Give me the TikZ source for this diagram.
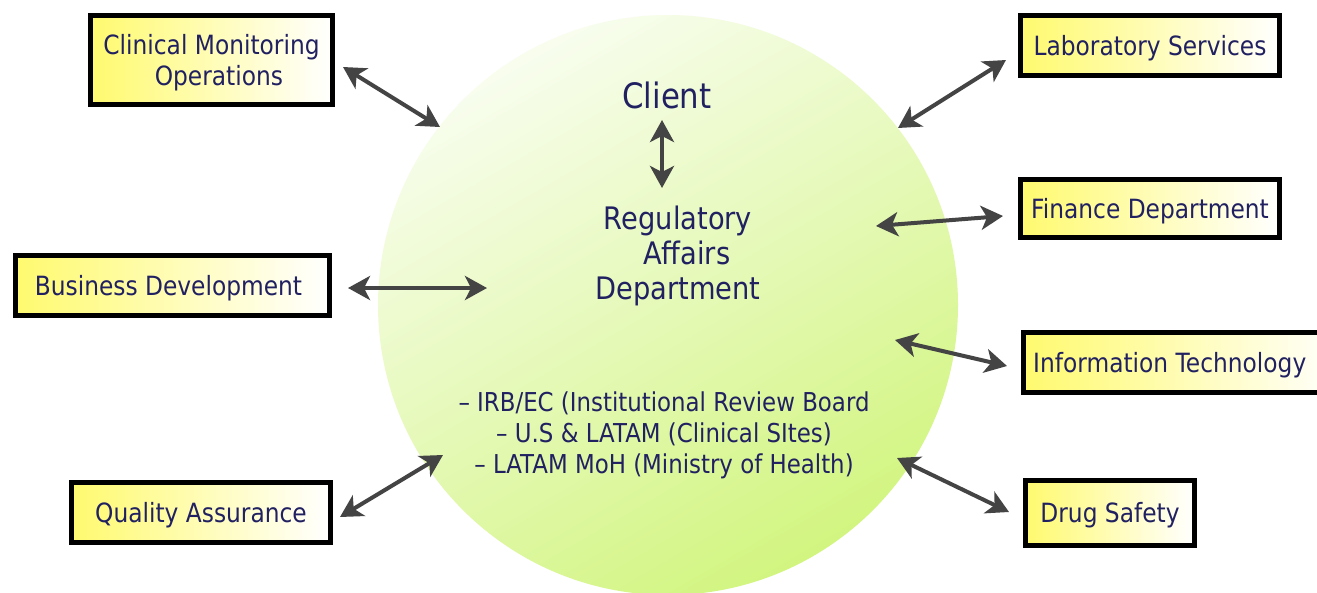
\documentclass[tikz,border=0pt]{standalone}
\usepackage{fontspec}
\setmainfont{DejaVu Sans}[FakeStretch=0.88]
\usetikzlibrary{arrows.meta}
\definecolor{navy}{RGB}{33,33,98}
\definecolor{arrowgray}{RGB}{68,68,68}
\definecolor{boxyellow}{RGB}{255,250,110}
\definecolor{circtop}{RGB}{248,253,238}
\definecolor{circbot}{RGB}{210,245,128}
\tikzset{
  box/.style={draw=black, line width=5.5pt, left color=boxyellow, right color=white,
    text=navy, font=\fontsize{26.5}{31}\selectfont, align=center, inner sep=0pt, text depth=1pt},
  link/.style={draw=arrowgray, line width=4pt,
    {Stealth[length=22pt,width=24pt,inset=6pt]}-{Stealth[length=22pt,width=24pt,inset=6pt]}},
  label/.style={text=navy, align=center, inner sep=0pt}
}
\begin{document}
\begin{tikzpicture}[x=1pt,y=-1pt]
\clip (0,0) rectangle (1317,592);
\fill[white] (0,0) rectangle (1317,592);
% central circle
\node[circle, minimum size=580pt, inner sep=0pt, shading=axis, top color=circtop, bottom color=circbot, shading angle=30] (circ) at (668,305) {};
% boxes
\node[box, minimum width=242pt, minimum height=89pt] (cmo) at (211.5,60) {Clinical Monitoring\\\ \ Operations};
\node[box, minimum width=259pt, minimum height=60pt] (lab) at (1150,45.5) {Laboratory Services};
\node[box, minimum width=259pt, minimum height=58pt] (fin) at (1150,208.5) {Finance Department};
\node[box, minimum width=314pt, minimum height=60pt] (bd) at (172.5,285.5) {Business Development\hspace*{8pt}};
\node[box, minimum width=320pt, minimum height=60pt, anchor=west, align=left] (it) at (1020.5,362.5) {\hspace*{3pt}Information Technology\hspace*{30pt}};
\node[box, minimum width=259pt, minimum height=60pt] (qa) at (201,512.5) {Quality Assurance};
\node[box, minimum width=169pt, minimum height=65pt] (ds) at (1110,513) {Drug Safety};
% texts
\node[label, font=\fontsize{35}{35}\selectfont] (client) at (667,95) {Client};
\node[label, font=\fontsize{31}{35}\selectfont] (ra) at (678,256) {Regulatory\\\ \ Affairs\\Department};
\node[label, font=\fontsize{26}{31}\selectfont] (list) at (664,435) {– IRB/EC (Institutional Review Board\\– U.S \& LATAM (Clinical SItes)\\– LATAM MoH (Ministry of Health)};
% connector endpoints
\coordinate (cmoA) at (343,67);   \coordinate (cmoB) at (440,127);
\coordinate (labA) at (898,128);  \coordinate (labB) at (1006,60);
\coordinate (finA) at (876,226);  \coordinate (finB) at (1003,216);
\coordinate (bdA) at (348,288);   \coordinate (bdB) at (487,288);
\coordinate (itA) at (895,340);   \coordinate (itB) at (1007,366);
\coordinate (qaA) at (340,517);   \coordinate (qaB) at (443,455);
\coordinate (dsA) at (897,458);   \coordinate (dsB) at (1009,512);
\coordinate (crA) at (662,120);   \coordinate (crB) at (662,188);
% connectors
\draw[link] (cmoA) -- (cmoB);
\draw[link] (labA) -- (labB);
\draw[link] (finA) -- (finB);
\draw[link] (bdA) -- (bdB);
\draw[link] (itA) -- (itB);
\draw[link] (qaA) -- (qaB);
\draw[link] (dsA) -- (dsB);
\draw[link] (crA) -- (crB);
\end{tikzpicture}
\end{document}
